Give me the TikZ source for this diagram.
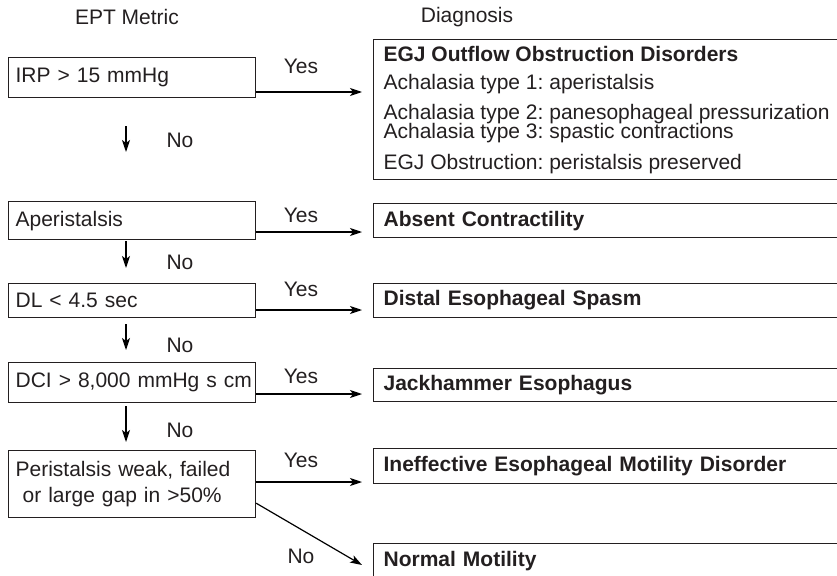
\documentclass[tikz,border=0pt]{standalone}
\usepackage{fontspec}
\setmainfont{Liberation Sans}
\usetikzlibrary{arrows.meta}
\definecolor{ink}{HTML}{231F20}
\newcommand\chartfont{\fontsize{21}{26}\selectfont\frenchspacing}
\tikzset{
  >={Stealth[length=12pt,width=8pt,inset=3pt]},
  metric/.style={draw=ink, line width=1.2pt, anchor=north west,
    text width=233pt, inner xsep=7pt, inner ysep=0pt, align=left},
  diag/.style={draw=ink, line width=1.2pt, anchor=north west,
    text width=480pt, inner xsep=10pt, inner ysep=0pt, align=left,
    font=\chartfont\bfseries},
  line/.style={anchor=base west, inner sep=0pt}
}

\begin{document}
\begin{tikzpicture}[x=1pt,y=-1pt,font=\chartfont,text=ink,line width=1.2pt]
  \useasboundingbox (0,0) rectangle (837,575);
  \clip (0,0) rectangle (837,575);
  % headings
  \node (hmetric) at (127,17) {EPT Metric};
  \node (hdiag) at (467,17) {Diagnosis};
  % EPT metrics
  \node[metric, minimum height=40pt] (irp) at (8,57) {IRP > 15 mmHg};
  \node[metric, minimum height=38pt] (aper) at (8,201) {Aperistalsis};
  \node[metric, minimum height=34pt] (dl) at (8,283) {DL < 4.5 sec};
  \node[metric, minimum height=40pt] (dci) at (8,362)
    {\mbox{DCI > 8,000 mmHg s cm}};
  \node[metric, minimum height=67pt] (weak) at (8,450)
    {Peristalsis weak, failed\\\hspace{7pt}or large gap in >50\%};
  % diagnoses
  \node[diag, minimum height=140pt] (egj) at (373,39) {};
  \node[line, font=\chartfont\bfseries] (egjhead) at (383,62)
    {EGJ Outflow Obstruction Disorders};
  \foreach \txt/\yb [count=\i] in {Achalasia type 1: aperistalsis/90,
      Achalasia type 2: panesophageal pressurization/119,
      Achalasia type 3: spastic contractions/139,
      EGJ Obstruction: peristalsis preserved/169}
    \node[line] (egj\i) at (383,\yb) {\txt};
  \node[diag, minimum height=34pt] (absent) at (373,203) {Absent Contractility};
  \node[diag, minimum height=34pt] (des) at (373,283) {Distal Esophageal Spasm};
  \node[diag, minimum height=33pt] (jack) at (373,368) {Jackhammer Esophagus};
  \node[diag, minimum height=35pt] (iem) at (373,448)
    {Ineffective Esophageal Motility Disorder};
  \node[diag, minimum height=34pt] (normal) at (373,543) {Normal Motility};
  % yes arrows
  \foreach \m/\d/\y in {irp/egj/92, aper/absent/232, dl/des/310,
      dci/jack/394, weak/iem/482}
    \draw[->, shorten >=11pt] (\m.east |- 0,\y) -- (\d.west |- 0,\y);
  \foreach \y [count=\i] in {66,215,289,376,460}
    \node (yes\i) at (301,\y) {Yes};
  % no arrows
  \coordinate (col) at (126,0);
  \foreach \a/\b/\s/\e in {irp/aper/28pt/49pt, aper/dl/1pt/15pt,
      dl/dci/6pt/12pt, dci/weak/3pt/8pt}
    \draw[->, shorten <=\s, shorten >=\e] (\a.south -| col) -- (\b.north -| col);
  \foreach \y [count=\i] in {140,262,345,430}
    \node (no\i) at (180,\y) {No};
  \coordinate (ntip) at (362,565);
  \draw[->] ([yshift=15pt]weak.south east) -- (ntip);
  \node (no5) at (301,556) {No};
\end{tikzpicture}
\end{document}
